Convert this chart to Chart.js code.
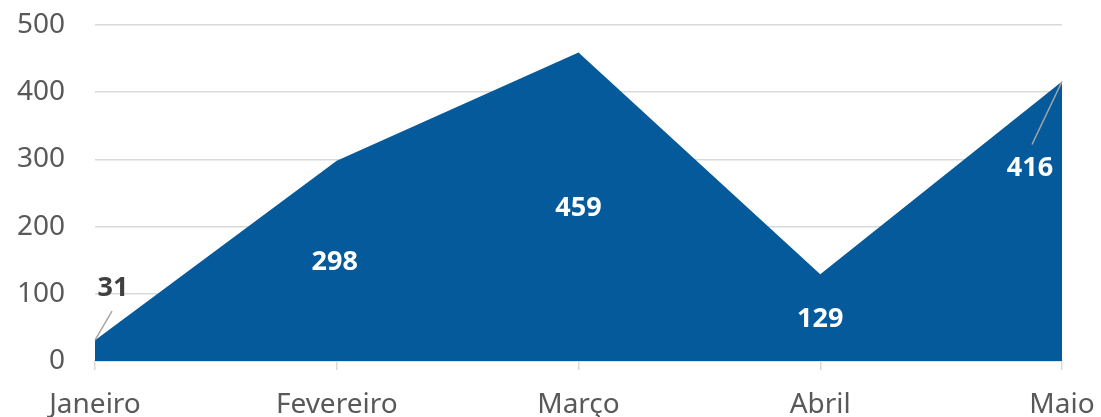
<!DOCTYPE html>
<html>
<head>
<meta charset="utf-8">
<script src="https://cdn.jsdelivr.net/npm/chart.js@4.4.0/dist/chart.umd.min.js"></script>
<style>
  html, body { margin: 0; padding: 0; background: #fff; }
  #wrap { width: 1101px; height: 417px; }
</style>
</head>
<body>
<div id="wrap"><canvas id="mycanvas"></canvas></div>
<script>
var meses = ['Janeiro', 'Fevereiro', 'Março', 'Abril', 'Maio'];
var valores = [31, 298, 459, 129, 416];
var eixoY = [0, 100, 200, 300, 400, 500];

// posição dos rótulos relativa ao ponto (dx, dy) e se tem linha guia
var rotulos = [
  { dx: 18, dy: -52, cor: '#404040', linha: [0, 0, 17, -29] },
  { dx: -2, dy: 102, cor: '#ffffff' },
  { dx: 0, dy: 156, cor: '#ffffff' },
  { dx: 0, dy: 45, cor: '#ffffff' },
  { dx: -32, dy: 87, cor: '#ffffff', linha: [0, 0, -30, 63] }
];

var rotulosPlugin = {
  id: 'rotulos',
  afterDatasetsDraw: function(chart) {
    var ctx = chart.ctx;
    var pts = chart.getDatasetMeta(0).data;
    ctx.save();
    for (var i = 0; i < pts.length; i++) {
      var p = pts[i], r = rotulos[i];
      if (r.linha) {
        ctx.strokeStyle = '#a6a6a6';
        ctx.lineWidth = 1.5;
        ctx.beginPath();
        ctx.moveTo(p.x + r.linha[0], p.y + r.linha[1]);
        ctx.lineTo(p.x + r.linha[2], p.y + r.linha[3]);
        ctx.stroke();
      }
      ctx.fillStyle = r.cor;
      ctx.font = 'bold 27px "Noto Sans"';
      ctx.textAlign = 'center';
      ctx.textBaseline = 'middle';
      ctx.fillText(valores[i], p.x + r.dx, p.y + r.dy);
    }
    ctx.restore();
  }
};

var chartdata = {
  labels: meses,
  datasets: [{
    data: valores,
    backgroundColor: '#045a9b',
    borderWidth: 0,
    fill: 'origin',
    tension: 0,
    pointRadius: 0
  }]
};

new Chart(document.getElementById('mycanvas'), {
  type: 'line',
  data: chartdata,
  plugins: [rotulosPlugin],
  options: {
    responsive: true,
    maintainAspectRatio: false,
    animation: false,
    layout: { padding: { left: 0, right: 39, top: 25, bottom: 0 } },
    plugins: { legend: { display: false }, tooltip: { enabled: false } },
    scales: {
      x: {
        offset: false,
        border: { display: true, color: '#d9d9d9', width: 1.5 },
        grid: { drawOnChartArea: false, drawTicks: true, tickLength: 9, color: '#d9d9d9', lineWidth: 1.5 },
        ticks: { color: '#595959', font: { family: 'Noto Sans', size: 28 }, padding: 18, maxRotation: 0 },
        afterFit: function(s) { s.height = 56; s.paddingLeft = 0; s.paddingRight = 0; }
      },
      y: {
        min: 0, max: 500,
        afterBuildTicks: function(s) { s.ticks = eixoY.map(function(v) { return { value: v }; }); },
        border: { display: false },
        grid: { color: '#d9d9d9', lineWidth: 1.5, drawTicks: false },
        ticks: { color: '#595959', font: { family: 'Noto Sans', size: 28 }, padding: 30 },
        afterFit: function(s) { s.width = 95; s.paddingTop = 0; s.paddingBottom = 0; }
      }
    }
  }
});
</script>
</body>
</html>
